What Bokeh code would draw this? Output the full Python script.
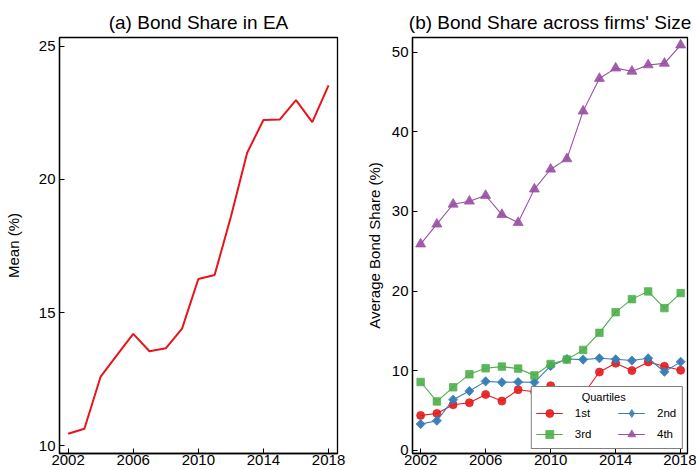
import math
from bokeh.plotting import figure
from bokeh.layouts import row
from bokeh.models import Range1d, FixedTicker, Legend, LegendItem
from bokeh.embed import file_html
from bokeh.resources import INLINE

years = [2002, 2003, 2004, 2005, 2006, 2007, 2008, 2009, 2010,
         2011, 2012, 2013, 2014, 2015, 2016, 2017, 2018]
ea_mean = [10.45, 10.64, 12.6, 13.4, 14.2, 13.55, 13.66, 14.4, 16.26,
           16.41, 18.6, 21.0, 22.23, 22.25, 22.98, 22.15, 23.53]
q1 = [4.37, 4.62, 5.71, 5.96, 7.0, 6.17, 7.6, 7.35, 8.1,
      5.2, 7.0, 9.82, 10.92, 10.0, 11.08, 10.54, 10.04]
q2 = [3.28, 3.7, 6.35, 7.43, 8.65, 8.53, 8.57, 8.53, 10.58,
      11.46, 11.38, 11.55, 11.42, 11.26, 11.55, 9.85, 11.1]
q3 = [8.57, 6.13, 7.9, 9.53, 10.29, 10.5, 10.25, 9.4, 10.83,
      11.38, 12.6, 14.74, 17.34, 18.98, 19.95, 17.85, 19.74]
q4 = [25.9, 28.4, 30.9, 31.28, 32.0, 29.6, 28.6, 32.8, 35.3,
      36.6, 42.6, 46.7, 48.0, 47.6, 48.4, 48.6, 50.9]
quart_labels = ["1st", "2nd", "3rd", "4th"]
legend_title = "Quartiles"
x_ticks = [2002, 2006, 2010, 2014, 2018]
left_yticks = [10, 15, 20, 25]
right_yticks = [0, 10, 20, 30, 40, 50]

FONT = "Liberation Sans"
NB = "\u00a0"


def style(p, yticks, ylabel, lab_standoff):
    p.outline_line_color = "black"
    p.outline_line_width = 1.3
    p.xgrid.visible = False
    p.ygrid.visible = False
    p.title.text_font = FONT
    p.title.text_font_size = "19px"
    p.title.text_font_style = "normal"
    p.title.text_color = "black"
    p.title.align = "center"
    p.title.standoff = 9
    for ax in (p.xaxis[0], p.yaxis[0]):
        ax.major_tick_in = 5
        ax.major_tick_out = 0
        ax.minor_tick_line_color = None
        ax.axis_line_color = "black"
        ax.axis_line_width = 1.3
        ax.major_tick_line_color = "black"
        ax.major_tick_line_width = 1
        ax.major_label_text_font = FONT
        ax.major_label_text_font_size = "15px"
        ax.major_label_text_color = "black"
    p.xaxis[0].major_label_standoff = 1
    p.yaxis[0].major_label_standoff = 4
    p.xaxis[0].ticker = FixedTicker(ticks=x_ticks)
    p.yaxis[0].ticker = FixedTicker(ticks=yticks)
    p.yaxis[0].axis_label = ylabel
    p.yaxis[0].axis_label_text_font = FONT
    p.yaxis[0].axis_label_text_font_size = "15px"
    p.yaxis[0].axis_label_text_font_style = "normal"
    p.yaxis[0].axis_label_text_color = "black"
    p.yaxis[0].axis_label_standoff = lab_standoff


p1 = figure(width=362, height=470, output_backend="svg", toolbar_location=None,
            title="(a) Bond Share in EA",
            x_range=Range1d(2001.47, 2018.55), y_range=Range1d(9.71, 25.33),
            min_border_left=59, min_border_right=25, min_border_top=37,
            min_border_bottom=17)
style(p1, left_yticks, "Mean (%)", 14)
p1.line(years, ea_mean, line_color="#e8141c", line_width=2)

p2 = figure(width=334, height=470, output_backend="svg", toolbar_location=None,
            title="(b) Bond Share across firms' Size",
            x_range=Range1d(2001.5, 2018.42), y_range=Range1d(-0.415, 51.85),
            min_border_left=44, min_border_right=9, min_border_top=37,
            min_border_bottom=17)
style(p2, right_yticks, "Average Bond Share (%)", 6)

colors = ["#e41a1c", "#377eb8", "#4daf4a", "#984ea3"]
markers = ["circle", "diamond", "square", "triangle"]
sizes = [8, 8, 7.5, 10]
series = [q1, q2, q3, q4]
pads = [8, 0, 8, 0]
items = []
for lab, ys, c, m, s, pad in zip(quart_labels, series, colors, markers,
                                 sizes, pads):
    ln = p2.line(years, ys, line_color=c, line_width=1.1)
    sc = p2.scatter(years, ys, marker=m, size=s, fill_color=c,
                    line_color=c, fill_alpha=0.9, line_alpha=0.7)
    if m == "diamond":
        # wider, square-like diamond drawn over the narrow Bokeh diamond
        p2.scatter(years, ys, marker="square", angle=math.pi / 4, size=6.5,
                   fill_color=c, line_color=c, fill_alpha=0.9, line_alpha=0.7)
    items.append(LegendItem(label=lab + NB * pad, renderers=[ln, sc]))

legend = Legend(items=items, location="bottom_right", orientation="horizontal",
                ncols=2, title=NB * 15 + legend_title, title_text_font=FONT,
                title_text_font_size="11px", title_text_font_style="normal",
                title_text_color="black", title_standoff=0,
                label_text_font=FONT, label_text_font_size="11.5px",
                label_text_color="black",
                glyph_width=27, glyph_height=20, label_height=18,
                label_width=21, label_standoff=12, spacing=1,
                padding=4, margin=4, border_line_color="black",
                border_line_width=1.5, background_fill_color="white",
                background_fill_alpha=1.0)
p2.add_layout(legend, "center")

layout = row(p1, p2)
open("out.html", "w").write(file_html(layout, INLINE))
